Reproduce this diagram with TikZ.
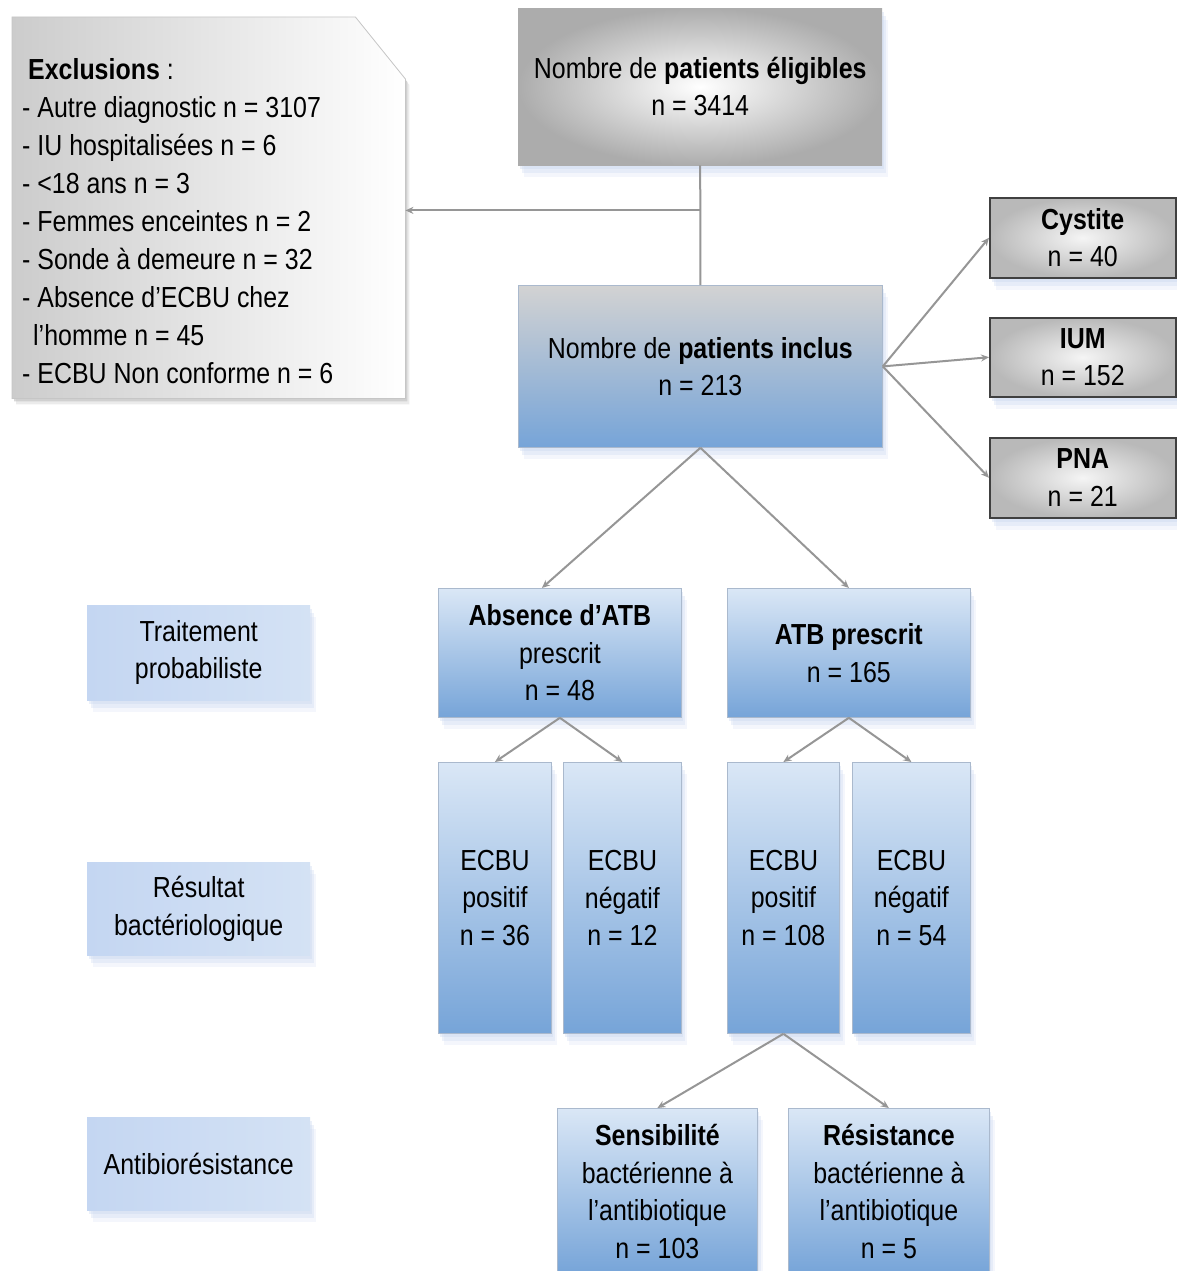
\documentclass[tikz,border=0pt]{standalone}
\usepackage{fontspec}
\setmainfont[FakeStretch=0.86]{Liberation Sans}
\usetikzlibrary{arrows.meta,shadows}
\definecolor{bluebot}{RGB}{118,164,216}
\definecolor{bluetop}{RGB}{218,231,246}
\definecolor{labl}{RGB}{196,214,242}
\definecolor{labr}{RGB}{212,226,244}
\definecolor{connc}{RGB}{150,150,150}
\definecolor{shadc}{RGB}{200,214,240}
\definecolor{bordc}{RGB}{170,185,205}
\tikzset{
  base/.style={font=\fontsize{29}{37.5}\selectfont, align=center, inner sep=0pt, rectangle, anchor=north west},
  softshadow/.style={
    general shadow={shadow xshift=2pt, shadow yshift=-4pt, fill=shadc, opacity=0.35},
    general shadow={shadow xshift=4pt, shadow yshift=-8pt, fill=shadc, opacity=0.3},
    general shadow={shadow xshift=6pt, shadow yshift=-12pt, fill=shadc, opacity=0.2}},
  bluebox/.style={base, softshadow, top color=bluetop, bottom color=bluebot, draw=bordc, line width=0.8pt},
  inclbox/.style={base, softshadow, top color=gray!35, middle color=gray!4, bottom color=bluebot, draw=bordc, line width=0.8pt},
  eligbox/.style={base, softshadow, inner color=white, outer color=gray!65},
  typebox/.style={base, softshadow, inner color=gray!8, outer color=gray!55, draw=black!75, line width=1.5pt},
  labelbox/.style={base, softshadow, left color=labl, middle color=white, right color=labr},
  connline/.style={draw=connc, line width=2pt},
  arr/.style={connline, -{Stealth[length=8pt,width=7pt]}},
}
\begin{document}
\begin{tikzpicture}[x=1pt,y=-1pt]
\clip (0,0) rectangle (1177,1271);
\fill[white] (0,0) rectangle (1177,1271);

% exclusions
\node[base, minimum width=393pt, minimum height=381pt] (exclbox) at (12,17) {};
\path[left color=gray!40, right color=white, draw=gray!45, line width=0.8pt,
      general shadow={shadow xshift=2pt, shadow yshift=-3pt, fill=gray!60, opacity=0.5},
      general shadow={shadow xshift=4pt, shadow yshift=-6pt, fill=gray!50, opacity=0.3}]
  (exclbox.north west) -- ([xshift=-50pt]exclbox.north east) -- ([yshift=-62pt]exclbox.north east)
  -- (exclbox.south east) -- (exclbox.south west) -- cycle;
\node[font=\fontsize{29}{38}\selectfont, align=left, anchor=north west, inner sep=0pt] (excltext) at (22,58)
 {\hspace*{6pt}\textbf{Exclusions} :\\
  - Autre diagnostic n = 3107\\
  - IU hospitalisées n = 6\\
  - <18 ans n = 3\\
  - Femmes enceintes n = 2\\
  - Sonde à demeure n = 32\\
  - Absence d’ECBU chez\\
  \hspace*{11pt}l’homme n = 45\\
  - ECBU Non conforme n = 6};

% main boxes
\node[eligbox, minimum width=364pt, minimum height=157pt] (elig) at (518,8) {Nombre de \textbf{patients éligibles}\\n = 3414};
\node[inclbox, minimum width=364pt, minimum height=162pt] (incl) at (518,285) {Nombre de \textbf{patients inclus}\\n = 213};

\node[typebox, minimum width=186pt, minimum height=80pt] (cyst) at (989,197) {\textbf{Cystite}\\n = 40};
\node[typebox, minimum width=186pt, minimum height=79pt] (ium) at (989,317) {\textbf{IUM}\\n = 152};
\node[typebox, minimum width=186pt, minimum height=80pt] (pna) at (989,437) {\textbf{PNA}\\n = 21};

\node[bluebox, minimum width=243pt, minimum height=129pt] (abs) at (438,588) {\textbf{Absence d’ATB}\\prescrit\\n = 48};
\node[bluebox, minimum width=243pt, minimum height=129pt] (atb) at (727,588) {\textbf{ATB prescrit}\\n = 165};

\node[bluebox, minimum width=113pt, minimum height=271pt] (p1) at (438,762) {ECBU\\positif\\n = 36};
\node[bluebox, minimum width=118pt, minimum height=271pt] (n1) at (563,762) {ECBU\\négatif\\n = 12};
\node[bluebox, minimum width=112pt, minimum height=271pt] (p2) at (727,762) {ECBU\\positif\\n = 108};
\node[bluebox, minimum width=118pt, minimum height=271pt] (n2) at (852,762) {ECBU\\négatif\\n = 54};

\node[bluebox, minimum width=200pt, minimum height=166pt] (sens) at (557,1108) {\textbf{Sensibilité}\\bactérienne à\\l’antibiotique\\n = 103};
\node[bluebox, minimum width=201pt, minimum height=166pt] (res) at (788,1108) {\textbf{Résistance}\\bactérienne à\\l’antibiotique\\n = 5};

% row labels
\node[labelbox, minimum width=223pt, minimum height=95pt] (lab1) at (87,605) {Traitement\\probabiliste};
\node[labelbox, minimum width=223pt, minimum height=93pt] (lab2) at (87,862) {Résultat\\bactériologique};
\node[labelbox, minimum width=223pt, minimum height=93pt] (lab3) at (87,1117) {Antibiorésistance};

% connectors
\draw[connline] (elig.south) -- (incl.north);
\coordinate (j) at ([yshift=-45pt]elig.south);
\draw[arr] (j) -- (j -| exclbox.east);

\draw[arr] (incl.east) -- (cyst.west);
\draw[arr] (incl.east) -- (ium.west);
\draw[arr] (incl.east) -- (pna.west);

\draw[arr] (incl.south) -- ([xshift=-18pt]abs.north);
\draw[arr] (incl.south) -- (atb.north);

\draw[arr] (abs.south) -- (p1.north);
\draw[arr] (abs.south) -- (n1.north);
\draw[arr] (atb.south) -- (p2.north);
\draw[arr] (atb.south) -- (n2.north);

\draw[arr] (p2.south) -- (sens.north);
\draw[arr] (p2.south) -- (res.north);
\end{tikzpicture}
\end{document}
